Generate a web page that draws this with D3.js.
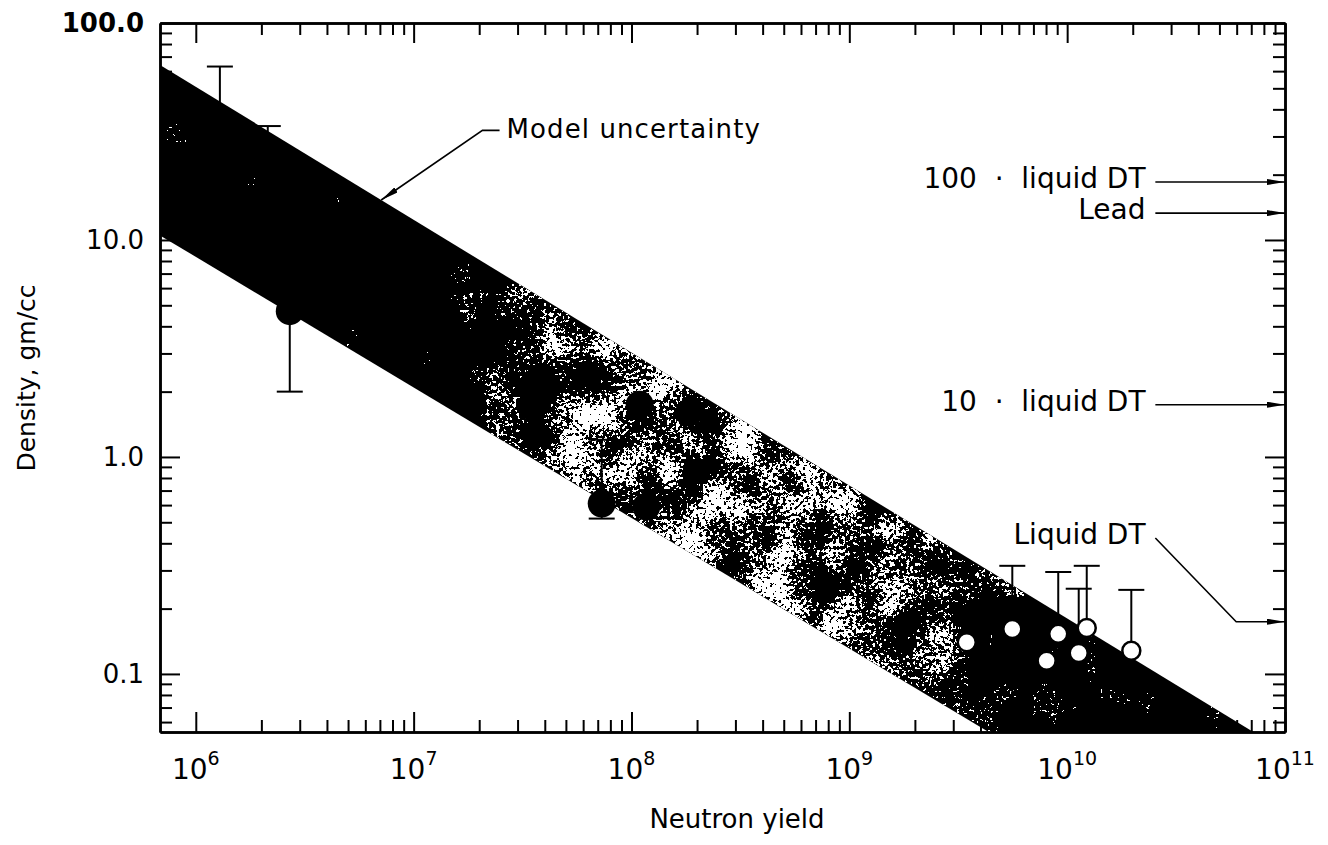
<!DOCTYPE html>
<html>
<head>
<meta charset="utf-8">
<script src="https://cdn.jsdelivr.net/npm/d3@7"></script>
<style>
body { margin: 0; background: #fff; }
svg text { font-family: "DejaVu Sans", sans-serif; fill: #000; }
.axis .domain { stroke: #000; stroke-width: 2.5; }
.axis .tick line { stroke: #000; stroke-width: 2; }
</style>
</head>
<body>
<svg id="chart" width="1328" height="845"></svg>
<script>
// model uncertainty band, density (gm/cc) at the two ends of the yield axis
const bandYield = [6.85e5, 1e11];
const bandUpper = [64, 0.044];
const bandLower = [10.5, 0.0082];

// filled points
const solidYield   = [1.29e6, 2.14e6, 2.7e6, 3.5e7, 7.3e7, 1.09e8, 1.17e8, 1.84e8];
const solidDensity = [22, 14, 4.7, 1.70, 0.61, 1.74, 0.59, 1.60];

// open points
const openYield   = [3.46e9, 5.6e9, 8.05e9, 9.1e9, 1.13e10, 1.23e10, 1.97e10];
const openDensity = [0.140, 0.161, 0.115, 0.153, 0.125, 0.163, 0.128];

// error bars
const errYield = [1.29e6, 2.14e6, 2.7e6, 7.3e7, 5.6e9, 9.1e9, 1.13e10, 1.23e10, 1.97e10];
const errLow   = [8, 6, 2.0, 0.52, 0.08, 0.075, 0.065, 0.085, 0.07];
const errHigh  = [63, 33.5, 11, 1.2, 0.315, 0.295, 0.247, 0.315, 0.244];

// reference densities marked on the right axis
const refDensity = [18.5, 13.3, 1.74, 0.174];
const refLabels  = ["100  \u00b7  liquid DT", "Lead", "10  \u00b7  liquid DT", "Liquid DT"];
const refLabelDensity = [18.5, 13.3, 1.74, 0.423];
const refLabelYield = 2.29e10;
const refLineStart = 2.54e10;
const refKinkYield = 5.97e10;

// "Model uncertainty" leader: tip on band, elbow, end
const noteYield = [7.1e6, 2.07e7, 2.48e7];
const noteDensity = [32, 32];
const noteTextYield = 2.67e7;

// axis ticks
const xMajor = [1e6, 1e7, 1e8, 1e9, 1e10, 1e11];
const xExp   = ["6", "7", "8", "9", "10", "11"];
const yMajor = [0.1, 1, 10, 100];
const yLabels = ["0.1", "1.0", "10.0", "100.0"];

const x = d3.scaleLog().domain([6.85e5, 1e11]).range([160, 1285]);
const y = d3.scaleLog().domain([0.054, 100]).range([732, 23]);

const svg = d3.select('#chart');
const defs = svg.append('defs');

function minors(scale, d0, d1){
    let out = [];
    let dom = scale.domain();
    for(let d = d0; d < d1; d++){
        for(let k = 2; k <= 9; k++){
            let v = +(k * Math.pow(10, d)).toPrecision(6);
            if(v >= dom[0] && v <= dom[1]) out.push(v);
        }
    }
    return out;
}

function logInterp(xs, ys, v){
    let t = (Math.log10(v) - Math.log10(xs[0])) / (Math.log10(xs[1]) - Math.log10(xs[0]));
    return Math.pow(10, Math.log10(ys[0]) + t * (Math.log10(ys[1]) - Math.log10(ys[0])));
}

let x0 = x.range()[0], x1 = x.range()[1], yb = y.range()[0], yt = y.range()[1];

defs.append('clipPath').attr('id', 'plotClip').append('rect')
    .attr('x', x0).attr('y', yt).attr('width', x1 - x0).attr('height', yb - yt);

// grey level of the gradient drives how much white grain shows through
let grad = defs.append('linearGradient').attr('id', 'grainGrad')
    .attr('gradientUnits', 'userSpaceOnUse')
    .attr('x1', x0).attr('x2', x1).attr('y1', 0).attr('y2', 0);
[[0, 0], [0.25, 0], [0.30, 0.28], [0.37, 0.46], [0.5, 0.42], [0.6, 0.47], [0.68, 0.38], [0.75, 0.22], [0.82, 0.1], [1, 0.03]]
    .forEach(s => {
        let g = Math.round(s[1] * 255);
        grad.append('stop').attr('offset', s[0]).attr('stop-color', `rgb(${g},${g},${g})`);
    });

let filt = defs.append('filter').attr('id', 'grain')
    .attr('color-interpolation-filters', 'sRGB')
    .attr('x', 0).attr('y', 0).attr('width', 1).attr('height', 1);
filt.append('feTurbulence').attr('type', 'fractalNoise').attr('baseFrequency', 0.3)
    .attr('numOctaves', 3).attr('seed', 11).attr('result', 'fine');
filt.append('feColorMatrix').attr('in', 'fine').attr('type', 'matrix')
    .attr('values', '2 0 0 0 -0.5  2 0 0 0 -0.5  2 0 0 0 -0.5  0 0 0 0 1').attr('result', 'fineG');
filt.append('feTurbulence').attr('type', 'fractalNoise').attr('baseFrequency', 0.025)
    .attr('numOctaves', 2).attr('seed', 4).attr('result', 'coarse');
filt.append('feColorMatrix').attr('in', 'coarse').attr('type', 'matrix')
    .attr('values', '2 0 0 0 -0.5  2 0 0 0 -0.5  2 0 0 0 -0.5  0 0 0 0 1').attr('result', 'coarseG');
filt.append('feComposite').attr('in', 'fineG').attr('in2', 'coarseG').attr('operator', 'arithmetic')
    .attr('k1', 0).attr('k2', 0.5).attr('k3', 0.5).attr('k4', 0).attr('result', 'noise');
filt.append('feComposite').attr('in', 'SourceGraphic').attr('in2', 'noise').attr('operator', 'arithmetic')
    .attr('k1', 0).attr('k2', 1).attr('k3', 1).attr('k4', -0.5).attr('result', 'sum');
filt.append('feColorMatrix').attr('in', 'sum').attr('type', 'matrix')
    .attr('values', '0 0 0 0 1  0 0 0 0 1  0 0 0 0 1  1 0 0 0 0').attr('result', 'alpha');
filt.append('feComponentTransfer').attr('in', 'alpha').attr('result', 'spots')
    .append('feFuncA').attr('type', 'discrete').attr('tableValues', '0 1');
filt.append('feComposite').attr('in', 'spots').attr('in2', 'SourceGraphic').attr('operator', 'in');

defs.append('marker').attr('id', 'arrow')
    .attr('viewBox', '0 0 10 10').attr('refX', 10).attr('refY', 5)
    .attr('markerUnits', 'userSpaceOnUse').attr('markerWidth', 18).attr('markerHeight', 6)
    .attr('preserveAspectRatio', 'none').attr('orient', 'auto')
    .append('path').attr('d', 'M0,0L10,5L0,10z').attr('fill', '#000');

// band
let bandData = bandYield.map((v, i) => [v, bandUpper[i], bandLower[i]]);
let area = d3.area()
    .x(d => x(d[0]))
    .y0(d => y(d[2]))
    .y1(d => y(d[1]));

let plot = svg.append('g').attr('clip-path', 'url(#plotClip)');
plot.append('path').datum(bandData).attr('d', area).attr('fill', '#000');
plot.append('g').attr('filter', 'url(#grain)')
    .append('path').datum(bandData).attr('d', area).attr('fill', 'url(#grainGrad)');

// error bars
let errs = plot.append('g').attr('stroke', '#000').attr('stroke-width', 2);
errYield.forEach((v, i) => {
    let cx = x(v);
    errs.append('line').attr('x1', cx).attr('x2', cx).attr('y1', y(errHigh[i])).attr('y2', y(errLow[i]));
    [errHigh[i], errLow[i]].forEach(e => {
        errs.append('line').attr('x1', cx - 13).attr('x2', cx + 13).attr('y1', y(e)).attr('y2', y(e));
    });
});

// points
plot.append('g').selectAll('circle').data(solidYield).join('circle')
    .attr('cx', d => x(d)).attr('cy', (d, i) => y(solidDensity[i]))
    .attr('r', 14).attr('fill', '#000');

plot.append('g').selectAll('circle').data(openYield).join('circle')
    .attr('cx', d => x(d)).attr('cy', (d, i) => y(openDensity[i]))
    .attr('r', 9).attr('fill', '#fff').attr('stroke', '#000').attr('stroke-width', 2.5);

// axes, ticks point inward on all four sides
function drawAxis(axis, values, size, transform){
    svg.append('g').attr('class', 'axis').attr('transform', transform)
        .call(axis.tickValues(values).tickSize(size).tickSizeOuter(0).tickFormat(''));
}
let xMin = minors(x, 6, 11), yMin = minors(y, -2, 2);
drawAxis(d3.axisBottom(x), xMin, -12, `translate(0,${yb})`);
drawAxis(d3.axisBottom(x), xMajor, -20, `translate(0,${yb})`);
drawAxis(d3.axisTop(x), xMin, -12, `translate(0,${yt})`);
drawAxis(d3.axisTop(x), xMajor, -20, `translate(0,${yt})`);
drawAxis(d3.axisLeft(y), yMin, -12, `translate(${x0},0)`);
drawAxis(d3.axisLeft(y), yMajor, -20, `translate(${x0},0)`);
drawAxis(d3.axisRight(y), yMin, -12, `translate(${x1},0)`);
drawAxis(d3.axisRight(y), yMajor, -20, `translate(${x1},0)`);

// tick labels
xMajor.forEach((v, i) => {
    let t = svg.append('text').attr('x', x(v)).attr('y', 779)
        .attr('text-anchor', 'middle').style('font-size', '28px').text('10');
    t.append('tspan').attr('dy', -14).style('font-size', '19px').text(xExp[i]);
});

yMajor.forEach((v, i) => {
    svg.append('text').attr('x', 144).attr('y', y(v))
        .attr('text-anchor', 'end').attr('dy', '0.36em')
        .style('font-size', '26px')
        .style('font-weight', i == yMajor.length - 1 ? 'bold' : 'normal')
        .text(yLabels[i]);
});

svg.append('text').attr('x', 737).attr('y', 828).attr('text-anchor', 'middle')
    .style('font-size', '26px').text('Neutron yield');

svg.append('text').attr('transform', 'translate(35,378) rotate(-90)').attr('text-anchor', 'middle')
    .style('font-size', '25px').text('Density, gm/cc');

// model uncertainty note
let tipDensity = logInterp(bandYield, bandUpper, noteYield[0]);
svg.append('path')
    .attr('d', d3.line()([
        [x(noteYield[2]), y(noteDensity[1])],
        [x(noteYield[1]), y(noteDensity[0])],
        [x(noteYield[0]), y(tipDensity)]
    ]))
    .attr('fill', 'none').attr('stroke', '#000').attr('stroke-width', 1.6)
    .attr('marker-end', 'url(#arrow)');
svg.append('text').attr('x', x(noteTextYield)).attr('y', y(noteDensity[0]) + 8)
    .style('font-size', '26px').style('letter-spacing', '1.1px').text('Model uncertainty');

// reference densities
refDensity.forEach((v, i) => {
    let pts;
    if(i == refDensity.length - 1){
        pts = [[x(refLineStart), y(refLabelDensity[i])], [x(refKinkYield), y(v)], [x1, y(v)]];
    } else {
        pts = [[x(refLineStart), y(v)], [x1, y(v)]];
    }
    svg.append('path').attr('d', d3.line()(pts))
        .attr('fill', 'none').attr('stroke', '#000').attr('stroke-width', 1.6)
        .attr('marker-end', 'url(#arrow)');
    svg.append('text').attr('x', x(refLabelYield)).attr('y', y(refLabelDensity[i]) + 6)
        .attr('text-anchor', 'end').style('white-space', 'pre').attr('xml:space', 'preserve')
        .style('font-size', '28px').text(refLabels[i]);
});
</script>
</body>
</html>
